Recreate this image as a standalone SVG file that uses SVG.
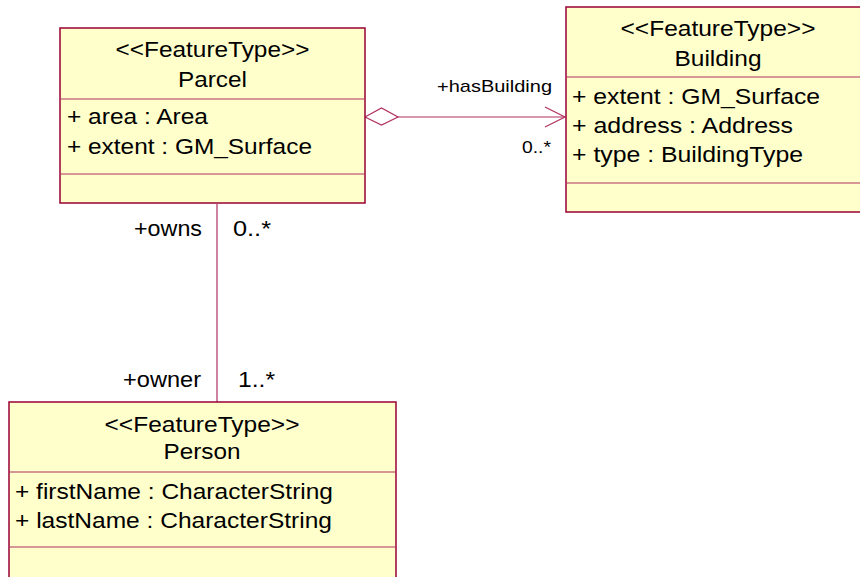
<svg xmlns="http://www.w3.org/2000/svg" width="860" height="577" viewBox="0 0 860 577">
<style>
.box{fill:#ffffcc;stroke:#990033;stroke-width:1.5}
.div{stroke:#b03060;stroke-width:1.2}
.t{font-family:"Liberation Sans",Arial,sans-serif;font-size:21.5px;fill:#000}
.c{text-anchor:middle}
.e{text-anchor:end}
.s{font-family:"Liberation Sans",Arial,sans-serif;font-size:17px;fill:#000}
.ln{stroke:#b03060;stroke-width:1.2;fill:none}
</style>
<rect width="860" height="577" fill="#fff"/>
<g id="connectors">
<line class="ln" x1="217" y1="204" x2="217" y2="402"/>
<line class="ln" x1="398" y1="117" x2="565" y2="117"/>
<polygon points="365,117 381.5,108 398,117 381.5,125" fill="#fff" stroke="#b03060" stroke-width="1.2"/>
<polyline class="ln" points="545,107 565,117 545,127"/>
<text class="s e" x="552" y="91.5" textLength="115" lengthAdjust="spacingAndGlyphs">+hasBuilding</text>
<text class="s e" x="551" y="153" textLength="29" lengthAdjust="spacingAndGlyphs">0..*</text>
<text class="t e" x="202" y="236" textLength="68" lengthAdjust="spacingAndGlyphs">+owns</text>
<text class="t" x="233" y="236" textLength="38" lengthAdjust="spacingAndGlyphs">0..*</text>
<text class="t e" x="201" y="386.5" textLength="78" lengthAdjust="spacingAndGlyphs">+owner</text>
<text class="t" x="238" y="386.5" textLength="37" lengthAdjust="spacingAndGlyphs">1..*</text>
</g>
<g id="parcel">
<rect class="box" x="60" y="28" width="305" height="175"/>
<line class="div" x1="60" y1="99" x2="365" y2="99"/>
<line class="div" x1="60" y1="174" x2="365" y2="174"/>
<text class="t c" x="212.5" y="57" textLength="194" lengthAdjust="spacingAndGlyphs">&lt;&lt;FeatureType&gt;&gt;</text>
<text class="t c" x="212.5" y="86.5" textLength="69" lengthAdjust="spacingAndGlyphs">Parcel</text>
<text class="t" x="67" y="124" textLength="141" lengthAdjust="spacingAndGlyphs">+ area : Area</text>
<text class="t" x="67" y="153.5" textLength="245" lengthAdjust="spacingAndGlyphs">+ extent : GM_Surface</text>
</g>
<g id="building">
<rect class="box" x="566" y="7" width="310" height="205"/>
<line class="div" x1="566" y1="77" x2="876" y2="77"/>
<line class="div" x1="566" y1="183" x2="876" y2="183"/>
<text class="t c" x="718" y="35.5" textLength="195" lengthAdjust="spacingAndGlyphs">&lt;&lt;FeatureType&gt;&gt;</text>
<text class="t c" x="718" y="66" textLength="87" lengthAdjust="spacingAndGlyphs">Building</text>
<text class="t" x="572" y="104" textLength="248" lengthAdjust="spacingAndGlyphs">+ extent : GM_Surface</text>
<text class="t" x="572" y="133" textLength="221" lengthAdjust="spacingAndGlyphs">+ address : Address</text>
<text class="t" x="572" y="162" textLength="231" lengthAdjust="spacingAndGlyphs">+ type : BuildingType</text>
</g>
<g id="person">
<rect class="box" x="9" y="402" width="387" height="190"/>
<line class="div" x1="9" y1="472" x2="396" y2="472"/>
<line class="div" x1="9" y1="547" x2="396" y2="547"/>
<text class="t c" x="202" y="431.5" textLength="195" lengthAdjust="spacingAndGlyphs">&lt;&lt;FeatureType&gt;&gt;</text>
<text class="t c" x="202" y="459" textLength="77" lengthAdjust="spacingAndGlyphs">Person</text>
<text class="t" x="15" y="499" textLength="318" lengthAdjust="spacingAndGlyphs">+ firstName : CharacterString</text>
<text class="t" x="15" y="528" textLength="317" lengthAdjust="spacingAndGlyphs">+ lastName : CharacterString</text>
</g>
</svg>
